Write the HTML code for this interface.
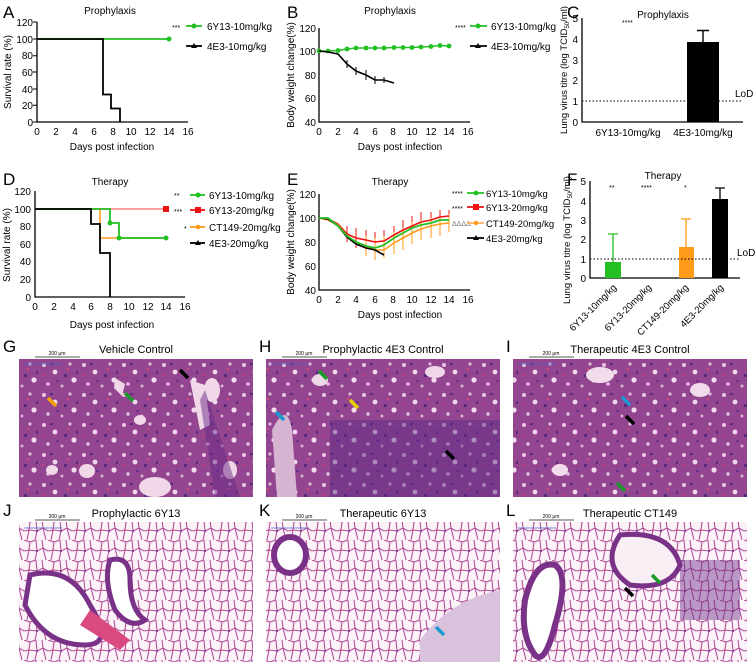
<!DOCTYPE html>
<html><head><meta charset="utf-8"><style>
body{margin:0;background:#fff}
svg{display:block;font-family:"Liberation Sans",Arial,sans-serif}
</style></head><body>
<svg width="756" height="662" viewBox="0 0 756 662" xmlns="http://www.w3.org/2000/svg">
<defs>
<pattern id="dense" width="40" height="30" patternUnits="userSpaceOnUse">
<rect width="40" height="30" fill="#93468f"/>
<circle cx="4" cy="5" r="2" fill="#e8c6e2"/>
<circle cx="15" cy="12" r="2.4" fill="#f0d8ec"/>
<circle cx="30" cy="4" r="1.6" fill="#e0b8da"/>
<circle cx="34" cy="20" r="2.6" fill="#f2dcee"/>
<circle cx="8" cy="24" r="1.8" fill="#e6c2df"/>
<circle cx="22" cy="26" r="1.5" fill="#dcb2d6"/>
<rect x="10" y="3" width="3" height="2" fill="#5a2a80"/>
<rect x="24" y="14" width="3" height="3" fill="#5a2a80"/>
<rect x="2" y="14" width="2" height="2" fill="#c8407c"/>
<rect x="27" y="8" width="2" height="2" fill="#d04a7a"/>
<rect x="16" y="20" width="3" height="2" fill="#6a2f88"/>
<rect x="36" y="11" width="2" height="3" fill="#5a2a80"/>
</pattern>
<pattern id="light" width="24" height="20" patternUnits="userSpaceOnUse">
<rect width="24" height="20" fill="#fbf3f8"/>
<path d="M0 0L6 2 12 0M6 2L5 10 0 11M5 10L13 11 12 0M13 11L19 8 24 11M19 8L18 0M13 11L11 20M19 8L22 20M5 10L3 20" stroke="#b5529c" stroke-width="1.1" fill="none"/>
<circle cx="13" cy="11" r="1" fill="#6a2f88"/>
<circle cx="5" cy="10" r="0.9" fill="#d0407a"/>
</pattern>
</defs>

<g font-size="10" fill="#000">
<!-- Panel A -->
<text x="3" y="18" font-size="17">A</text>
<text x="110" y="14" text-anchor="middle">Prophylaxis</text>
<path d="M37 22V122H188" stroke="#000" stroke-width="1.3" fill="none"/>
<g text-anchor="end">
<text x="33" y="26">120</text><text x="33" y="43">100</text><text x="33" y="59">80</text><text x="33" y="76">60</text><text x="33" y="93">40</text><text x="33" y="109">20</text><text x="33" y="126">0</text>
</g>
<g stroke="#000" stroke-width="1"><path d="M33 22h4M33 39h4M33 55.7h4M33 72h4M33 89h4M33 105.3h4M33 122h4"/></g>
<g text-anchor="middle">
<text x="37" y="135">0</text><text x="56" y="135">2</text><text x="75" y="135">4</text><text x="94" y="135">6</text><text x="113" y="135">8</text><text x="131" y="135">10</text><text x="150" y="135">12</text><text x="169" y="135">14</text><text x="188" y="135">16</text>
</g>
<text x="112" y="150" text-anchor="middle">Days post infection</text>
<text transform="translate(11,72) rotate(-90)" text-anchor="middle">Survival rate (%)</text>
<path d="M37 39H169" stroke="#22c022" stroke-width="1.8"/>
<circle cx="169" cy="39" r="2.5" fill="#22c022"/>
<path d="M37 39H103V94.5H111V108.5H120V122" stroke="#000" stroke-width="1.8" fill="none"/>
<text x="172" y="30" font-size="7">***</text>
<path d="M186 26H202" stroke="#22c022" stroke-width="1.8"/><circle cx="194" cy="26" r="2.5" fill="#22c022"/>
<text x="207" y="30">6Y13-10mg/kg</text>
<path d="M186 46H202" stroke="#000" stroke-width="1.8"/><path d="M194 43l3 5h-6z" fill="#000"/>
<text x="207" y="50">4E3-10mg/kg</text>

<!-- Panel B -->
<text x="287" y="18" font-size="17">B</text>
<text x="390" y="14" text-anchor="middle">Prophylaxis</text>
<path d="M319 28V122H470" stroke="#000" stroke-width="1.3" fill="none"/>
<g text-anchor="end">
<text x="316" y="32">120</text><text x="316" y="55">100</text><text x="316" y="79">80</text><text x="316" y="102">60</text><text x="316" y="126">40</text>
</g>
<g text-anchor="middle">
<text x="319" y="135">0</text><text x="338" y="135">2</text><text x="356" y="135">4</text><text x="375" y="135">6</text><text x="393" y="135">8</text><text x="412" y="135">10</text><text x="431" y="135">12</text><text x="449" y="135">14</text><text x="468" y="135">16</text>
</g>
<text x="400" y="150" text-anchor="middle">Days post infection</text>
<text transform="translate(294,75) rotate(-90)" text-anchor="middle">Body weight change(%)</text>
<polyline points="319,51 328,51 338,50.5 347,49 356,48 366,48 375,48 384,48 394,47.5 403,47.5 412,47.5 421,47 431,46.5 440,45.5 449,46" fill="none" stroke="#22c022" stroke-width="1.6"/>
<g fill="#22c022"><circle cx="319" cy="51" r="2.4"/><circle cx="328" cy="51" r="2.4"/><circle cx="338" cy="50.5" r="2.4"/><circle cx="347" cy="49" r="2.4"/><circle cx="356" cy="48" r="2.4"/><circle cx="366" cy="48" r="2.4"/><circle cx="375" cy="48" r="2.4"/><circle cx="384" cy="48" r="2.4"/><circle cx="394" cy="47.5" r="2.4"/><circle cx="403" cy="47.5" r="2.4"/><circle cx="412" cy="47.5" r="2.4"/><circle cx="421" cy="47" r="2.4"/><circle cx="431" cy="46.5" r="2.4"/><circle cx="440" cy="45.5" r="2.4"/><circle cx="449" cy="46" r="2.4"/></g>
<polyline points="319,51 328,52 338,54 347,64 356,71 366,75 375,80 384,80 394,83" fill="none" stroke="#000" stroke-width="1.6"/>
<g stroke="#000" stroke-width="1"><path d="M347 60v8M356 67v8M366 70v10M375 76v8M384 77v6"/></g>
<text x="455" y="30" font-size="7">****</text>
<path d="M470 26H487" stroke="#22c022" stroke-width="1.8"/><circle cx="478" cy="26" r="2.5" fill="#22c022"/>
<text x="491" y="30">6Y13-10mg/kg</text>
<path d="M470 46H487" stroke="#000" stroke-width="1.8"/><path d="M478 43l3 5h-6z" fill="#000"/>
<text x="491" y="50">4E3-10mg/kg</text>

<!-- Panel C -->
<text x="567" y="18" font-size="17">C</text>
<text x="663" y="18" text-anchor="middle">Prophylaxis</text>
<text x="622" y="25" font-size="7">****</text>
<path d="M582 18V122H743" stroke="#000" stroke-width="1.3" fill="none"/>
<g text-anchor="end">
<text x="578" y="22">5</text><text x="578" y="43">4</text><text x="578" y="64">3</text><text x="578" y="84">2</text><text x="578" y="105">1</text><text x="578" y="126">0</text>
</g>
<text transform="translate(567,70) rotate(-90)" text-anchor="middle" font-size="9.5">Lung virus titre (log TCID<tspan font-size="6" dy="2">50</tspan><tspan dy="-2">/ml)</tspan></text>
<rect x="687" y="42" width="32" height="80" fill="#000"/>
<path d="M703 42V30.5M697 30.5H709" stroke="#000" stroke-width="1.4"/>
<path d="M582 101H743" stroke="#000" stroke-width="1" stroke-dasharray="1.5,2"/>
<text x="735" y="97">LoD</text>
<text x="628" y="136" text-anchor="middle">6Y13-10mg/kg</text>
<text x="703" y="136" text-anchor="middle">4E3-10mg/kg</text>

<!-- Panel D -->
<text x="3" y="185" font-size="17">D</text>
<text x="110" y="185" text-anchor="middle">Therapy</text>
<path d="M35 191V297H185" stroke="#000" stroke-width="1.3" fill="none"/>
<g text-anchor="end">
<text x="31" y="195">120</text><text x="31" y="213">100</text><text x="31" y="230">80</text><text x="31" y="248">60</text><text x="31" y="265">40</text><text x="31" y="283">20</text><text x="31" y="301">0</text>
</g>
<g text-anchor="middle">
<text x="35" y="310">0</text><text x="54" y="310">2</text><text x="73" y="310">4</text><text x="91" y="310">6</text><text x="110" y="310">8</text><text x="129" y="310">10</text><text x="148" y="310">12</text><text x="166" y="310">14</text><text x="185" y="310">16</text>
</g>
<text x="112" y="328" text-anchor="middle">Days post infection</text>
<text transform="translate(10,245) rotate(-90)" text-anchor="middle">Survival rate (%)</text>
<path d="M35 209H166" stroke="#ff8080" stroke-width="1.6"/>
<rect x="163" y="206" width="6" height="6" fill="#ee1111"/>
<path d="M35 209H100V238H166" stroke="#ff9a1a" stroke-width="1.6" fill="none"/>
<path d="M35 209H110V223H119V238H166" stroke="#22c022" stroke-width="1.8" fill="none"/>
<circle cx="110" cy="223" r="2.5" fill="#22c022"/><circle cx="119" cy="238" r="2.5" fill="#22c022"/><circle cx="166" cy="238" r="2.5" fill="#22c022"/>
<path d="M35 209H91V224H100V253H110V297" stroke="#000" stroke-width="1.8" fill="none"/>
<text x="174" y="198" font-size="7">**</text>
<path d="M190 195H205" stroke="#22c022" stroke-width="1.8"/><circle cx="198" cy="195" r="2.5" fill="#22c022"/>
<text x="209" y="199">6Y13-10mg/kg</text>
<text x="174" y="214" font-size="7">***</text>
<path d="M190 210H205" stroke="#ee1111" stroke-width="1.8"/><rect x="195" y="207" width="6" height="6" fill="#ee1111"/>
<text x="209" y="214">6Y13-20mg/kg</text>
<text x="184" y="231" font-size="7">*</text>
<path d="M190 227H205" stroke="#ff9a1a" stroke-width="1.8"/><circle cx="198" cy="227" r="2.3" fill="#ff9a1a"/>
<text x="209" y="231">CT149-20mg/kg</text>
<path d="M190 243H205" stroke="#000" stroke-width="1.8"/><path d="M198 240l3 5h-6z" fill="#000"/>
<text x="209" y="247">4E3-20mg/kg</text>

<!-- Panel E -->
<text x="287" y="185" font-size="17">E</text>
<text x="390" y="185" text-anchor="middle">Therapy</text>
<path d="M319 194V290H470" stroke="#000" stroke-width="1.3" fill="none"/>
<g text-anchor="end">
<text x="316" y="198">120</text><text x="316" y="222">100</text><text x="316" y="246">80</text><text x="316" y="270">60</text><text x="316" y="294">40</text>
</g>
<g text-anchor="middle">
<text x="319" y="303">0</text><text x="338" y="303">2</text><text x="356" y="303">4</text><text x="375" y="303">6</text><text x="393" y="303">8</text><text x="412" y="303">10</text><text x="431" y="303">12</text><text x="449" y="303">14</text><text x="468" y="303">16</text>
</g>
<text x="400" y="318" text-anchor="middle">Days post infection</text>
<text transform="translate(294,242) rotate(-90)" text-anchor="middle">Body weight change(%)</text>
<g stroke-width="1" fill="none">
<path d="M347 226v16M356 228v20M366 230v22M375 232v22M384 230v22M394 226v20M403 220v20M412 216v20M421 212v20M431 212v18M440 210v18M449 210v16" stroke="#ee1111"/>
<path d="M366 236v20M375 238v22M384 236v22M394 232v22M403 228v22M412 222v22M421 220v20M431 218v20M440 216v20M449 214v18" stroke="#ff9a1a"/>
</g>
<polyline points="319,218 328,219 338,224 347,234 356,238 366,240 375,242 384,241 394,235 403,230 412,226 421,222 431,220 440,217 449,216" fill="none" stroke="#ee1111" stroke-width="1.6"/>
<polyline points="319,218 328,220 338,225 347,236 356,243 366,246 375,250 384,250 394,243 403,238 412,233 421,229 431,226 440,224 449,223" fill="none" stroke="#ff9a1a" stroke-width="1.6"/>
<polyline points="319,218 328,219 338,226 347,237 356,244 366,248 375,250 384,255" fill="none" stroke="#000" stroke-width="1.6"/>
<polyline points="319,218 328,218 338,226 347,236 356,242 366,246 375,248 384,245 394,238 403,233 412,228 421,225 431,223 440,220 449,220" fill="none" stroke="#22c022" stroke-width="1.8"/>
<g font-size="9.5">
<text x="452" y="196" font-size="7">****</text>
<path d="M467 193H484" stroke="#22c022" stroke-width="1.8"/><circle cx="476" cy="193" r="2.4" fill="#22c022"/>
<text x="486" y="197">6Y13-10mg/kg</text>
<text x="452" y="211" font-size="7">****</text>
<path d="M467 207H484" stroke="#ee1111" stroke-width="1.8"/><rect x="473" y="204" width="6" height="6" fill="#ee1111"/>
<text x="486" y="211">6Y13-20mg/kg</text>
<text x="452" y="226" font-size="7" fill="#777">ΔΔΔΔ</text>
<path d="M467 223H484" stroke="#ffb060" stroke-width="1.8"/><circle cx="476" cy="223" r="2.2" fill="#ff9a1a"/>
<text x="486" y="227">CT149-20mg/kg</text>
<path d="M467 238H484" stroke="#000" stroke-width="1.8"/><path d="M476 235l3 5h-6z" fill="#000"/>
<text x="486" y="242">4E3-20mg/kg</text>
</g>

<!-- Panel F -->
<text x="567" y="185" font-size="17" fill="#000">F</text>
<text x="663" y="179" text-anchor="middle">Therapy</text>
<text x="609" y="190" font-size="7">**</text>
<text x="641" y="190" font-size="7">****</text>
<text x="684" y="190" font-size="7">*</text>
<path d="M590 181V278H740" stroke="#000" stroke-width="1.3" fill="none"/>
<g text-anchor="end">
<text x="586" y="185">5</text><text x="586" y="205">4</text><text x="586" y="224">3</text><text x="586" y="243">2</text><text x="586" y="263">1</text><text x="586" y="282">0</text>
</g>
<text transform="translate(570,240) rotate(-90)" text-anchor="middle" font-size="9.5">Lung virus titre (log TCID<tspan font-size="6" dy="2">50</tspan><tspan dy="-2">/ml)</tspan></text>
<rect x="605" y="262" width="16" height="16" fill="#22c022"/>
<path d="M613 262V234M608 234H618" stroke="#22c022" stroke-width="1.3"/>
<rect x="679" y="247" width="15" height="31" fill="#ff9a1a"/>
<path d="M686 247V219M681 219H691" stroke="#ff9a1a" stroke-width="1.3"/>
<rect x="712" y="199" width="16" height="79" fill="#000"/>
<path d="M720 199V188M715 188H725" stroke="#000" stroke-width="1.3"/>
<path d="M590 259H740" stroke="#000" stroke-width="1" stroke-dasharray="1.5,2"/>
<text x="737" y="256">LoD</text>
<g font-size="9.5" text-anchor="end">
<text transform="translate(617,288) rotate(-45)">6Y13-10mg/kg</text>
<text transform="translate(652,288) rotate(-45)">6Y13-20mg/kg</text>
<text transform="translate(689,288) rotate(-45)">CT149-20mg/kg</text>
<text transform="translate(724,288) rotate(-45)">4E3-20mg/kg</text>
</g>
</g>

<g font-size="11">
<text x="3" y="352" font-size="17">G</text>
<text x="136" y="353" text-anchor="middle">Vehicle Control</text>
<text x="259" y="352" font-size="17">H</text>
<text x="383" y="353" text-anchor="middle">Prophylactic 4E3 Control</text>
<text x="506" y="352" font-size="17">I</text>
<text x="630" y="353" text-anchor="middle">Therapeutic 4E3 Control</text>
<text x="3" y="516" font-size="17">J</text>
<text x="136" y="517" text-anchor="middle">Prophylactic 6Y13</text>
<text x="259" y="516" font-size="17">K</text>
<text x="383" y="517" text-anchor="middle">Therapeutic 6Y13</text>
<text x="506" y="516" font-size="17">L</text>
<text x="630" y="517" text-anchor="middle">Therapeutic CT149</text>
</g>
<rect x="19" y="359" width="234" height="138" fill="url(#dense)"/>
<rect x="266" y="359" width="234" height="138" fill="url(#dense)"/>
<rect x="513" y="359" width="234" height="138" fill="url(#dense)"/>
<rect x="19" y="522" width="234" height="140" fill="url(#light)"/>
<rect x="266" y="522" width="234" height="140" fill="url(#light)"/>
<rect x="513" y="522" width="234" height="140" fill="url(#light)"/>
<!-- G features -->
<g fill="#f0d8e8">
<ellipse cx="155" cy="487" rx="16" ry="10"/><ellipse cx="87" cy="471" rx="8" ry="7"/><ellipse cx="230" cy="470" rx="7" ry="9"/>
<ellipse cx="52" cy="470" rx="6" ry="5"/><ellipse cx="212" cy="390" rx="8" ry="12"/><ellipse cx="140" cy="420" rx="6" ry="5"/>
<path d="M190 380l15 5 5 40-10 5z"/><path d="M115 378l10 6-3 12-8-8z"/>
</g>
<path d="M200 400 L215 497 L240 497 L205 390z" fill="#6a2a88" opacity=".5"/>
<!-- H features -->
<path d="M272 430 q15 -30 20 0 l5 67 h-20z" fill="#d6b4d2"/>
<rect x="330" y="420" width="170" height="77" fill="#5a2a85" opacity=".45"/>
<ellipse cx="320" cy="380" rx="8" ry="6" fill="#f0d8e8"/><ellipse cx="435" cy="372" rx="10" ry="6" fill="#f0d8e8"/>
<!-- I features -->
<g fill="#f2dcec"><ellipse cx="600" cy="375" rx="14" ry="8"/><ellipse cx="700" cy="390" rx="10" ry="7"/><ellipse cx="560" cy="470" rx="8" ry="6"/></g>
<!-- J features -->
<path d="M30 575 q40 -10 60 30 q25 40 -5 40 q-40 0 -60 -40z" fill="#fff" stroke="#7a3288" stroke-width="5"/>
<path d="M110 560 q20 -5 20 20 q0 30 15 40 q-15 10 -30 -10 q-12 -30 -5 -50z" fill="#fff" stroke="#7a3288" stroke-width="5"/>
<path d="M90 610 l40 30 l-10 10 l-40 -25z" fill="#d84a80"/>
<!-- K features -->
<ellipse cx="290" cy="555" rx="16" ry="18" fill="#fff" stroke="#7a3288" stroke-width="6"/>
<path d="M420 640 q30 -40 80 -50 v72 h-80z" fill="#d9c2db"/>
<!-- L features -->
<path d="M525 600 q10 -40 30 -35 q15 10 0 60 q-10 40 -20 30 q-15 -20 -10 -55z" fill="#fff" stroke="#7a3288" stroke-width="6"/>
<path d="M620 535 q50 -5 60 30 q-10 25 -50 20 q-30 -20 -10 -50z" fill="#f8eef4" stroke="#7a3288" stroke-width="5"/>
<rect x="680" y="560" width="60" height="60" fill="#6a2a88" opacity=".45"/>
<!-- scale bars -->
<g stroke="#555" stroke-width="1"><path d="M35 357H80M282 357H327M529 357H574M35 520H80M282 520H327M529 520H574"/></g>
<g stroke="#4a6ad0" stroke-width="0.8"><path d="M24 364H62M271 364H309M518 364H556M24 528H62M271 528H309M518 528H556"/></g>
<g font-size="5" text-anchor="middle"><text x="57" y="355">200 μm</text><text x="304" y="355">200 μm</text><text x="551" y="355">200 μm</text><text x="57" y="518">200 μm</text><text x="304" y="518">200 μm</text><text x="551" y="518">200 μm</text></g>
<g stroke-width="3.5">
<path d="M180 370l8 8" stroke="#000"/><path d="M125 393l8 8" stroke="#1a9a2a"/><path d="M48 398l8 8" stroke="#f0a000"/>
<path d="M319 371l8 8" stroke="#1a9a2a"/><path d="M350 400l8 8" stroke="#e8d000"/><path d="M276 412l8 8" stroke="#1a9ad0"/><path d="M446 451l8 8" stroke="#000"/>
<path d="M622 397l8 8" stroke="#1a9ad0"/><path d="M626 416l8 8" stroke="#000"/><path d="M617 483l8 8" stroke="#1a9a2a"/>
<path d="M436 627l8 8" stroke="#1a9ad0"/><path d="M625 588l8 8" stroke="#000"/><path d="M652 575l8 8" stroke="#1a9a2a"/>
</g>
</svg>
</body></html>
